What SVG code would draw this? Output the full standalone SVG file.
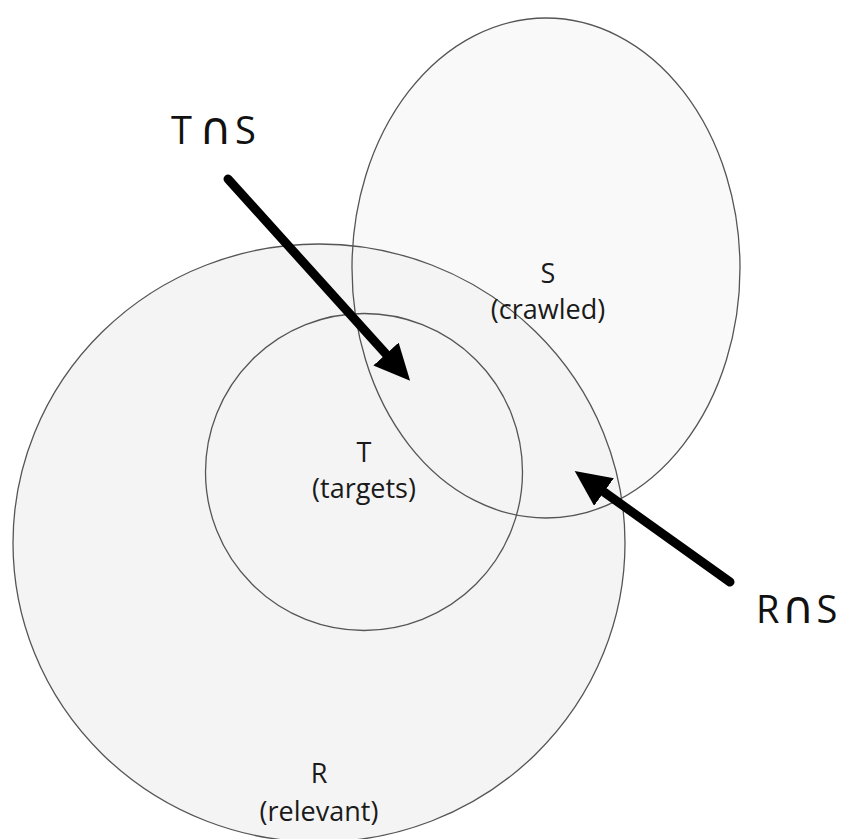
<svg xmlns="http://www.w3.org/2000/svg" width="842" height="839" viewBox="0 0 842 839">
<style>
.set{stroke:#555;stroke-width:1.3}
.lbl{font-family:"Open Sans","DejaVu Sans",sans-serif;font-size:27px;fill:#1a1a1a;text-anchor:middle}
.big{font-family:"Open Sans","DejaVu Sans",sans-serif;font-size:38px;fill:#111}
.cap{font-family:"DejaVu Sans",sans-serif;font-size:45px}
.arr{stroke:#000;stroke-width:9;stroke-linecap:round;fill:none;marker-end:url(#head)}
</style>
<defs>
<marker id="head" markerUnits="userSpaceOnUse" markerWidth="40" markerHeight="40" refX="0" refY="17" orient="auto">
<path d="M0,0 L36,17 L0,34 z" fill="#000"/>
</marker>
<ellipse id="sShape" cx="546" cy="268" rx="194" ry="250"/>
</defs>
<rect width="842" height="839" fill="#fff"/>
<use id="S-fill" href="#sShape" fill="#f9f9f9"/>
<g id="R">
<ellipse class="set" cx="319" cy="543" rx="306" ry="299" fill="#f4f4f4"/>
<text class="lbl" x="319" y="783">R</text>
<text class="lbl" x="319" y="821">(relevant)</text>
</g>
<g id="T">
<circle class="set" cx="364" cy="472" r="158.5" fill="none"/>
<text class="lbl" x="364" y="462">T</text>
<text class="lbl" x="364" y="498">(targets)</text>
</g>
<g id="S">
<use href="#sShape" class="set" fill="none"/>
<text class="lbl" x="548" y="283">S</text>
<text class="lbl" x="548" y="319">(crawled)</text>
</g>
<g id="connectors">
<line class="arr" x1="228" y1="179" x2="386" y2="354"/>
<line class="arr" x1="730" y1="582" x2="604" y2="492"/>
</g>
<g id="labels">
<text class="big" x="171" y="144">T<tspan class="cap" dx="7">∩</tspan><tspan dx="3">S</tspan></text>
<text class="big" x="756" y="623">R<tspan class="cap" dx="2">∩</tspan><tspan dx="2">S</tspan></text>
</g>
</svg>
